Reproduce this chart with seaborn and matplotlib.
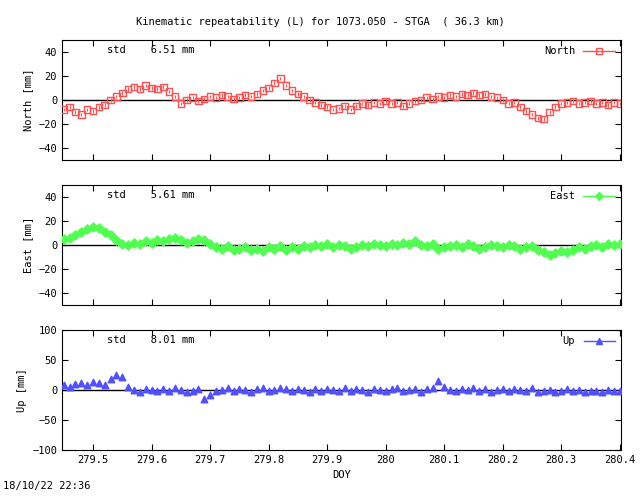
import numpy as np
import pandas as pd
import matplotlib.pyplot as plt
import seaborn as sns
from matplotlib.lines import Line2D

# DOY sample times (every 0.01 day)
doy = [round(279.45 + 0.01 * i, 2) for i in range(96)]

north = [-8, -6, -10, -12, -8, -9, -6, -4, 0, 3, 6, 9, 11, 9, 12, 10, 9, 11, 7, 3,
         -3, 0, 2, -1, 1, 3, 2, 4, 3, 1, 2, 4, 3, 5, 8, 10, 14, 18, 12, 8,
         5, 3, 0, -2, -4, -6, -8, -7, -5, -8, -5, -3, -4, -2, -3,
         -1, -3, -2, -5, -3, -1, 0, 2, 1, 3, 2, 4, 3, 5, 4, 6, 4, 5, 3, 2,
         0, -3, -2, -6, -9, -12, -15, -16, -10, -6, -3, -2, -1, -3, -2, -1, -3, -2, -4, -2, -3]
east = [5, 6, 8, 11, 13, 15, 14, 11, 8, 4, 1, 0, 2, 1, 3, 2, 4, 3, 5, 6,
        4, 2, 3, 5, 4, 1, -2, -3, -1, -4, -3, -2, -4, -3, -5, -2, -3, -1, -4, -2,
        -3, -1, -2, 0, -1, 1, -2, 0, -1, -3, -2, 0, -1, 1, 0,
        -1, 1, 0, 2, 1, 3, 0, -1, 1, -3, -2, -1, 0, -2, 1, -1, -3, -2, 0, -1,
        -2, 0, -1, -3, -2, -1, -4, -6, -8, -7, -5, -6, -4, -2, -3, -1, 0, -2, 1, 0, 1]
up = [8, 5, 10, 12, 9, 14, 11, 8, 18, 25, 22, 5, 0, -3, 2, 0, -2, 1, -1, 3,
      0, -4, -2, 1, -15, -8, -2, 0, 3, -1, 2, 0, -3, 1, 4, -2, 0, 3, 1, -1,
      2, 0, -3, 1, -2, 2, 0, -1, 3, -2, 1, 0, -3, 2, 0,
      -2, 1, 3, -1, 0, 2, -3, 1, 4, 15, 5, 0, -2, 2, 0, 3, -1, 1, -3, 0,
      2, -2, 1, 0, -1, 3, -4, -2, 0, -3, -1, 1, -2, 0, -4, -2, -1, -3, 0, -2, -1]

title = "Kinematic repeatability (L) for 1073.050 - STGA  ( 36.3 km)"
panels = [("North", north, "#ff5050", "s", "North [mm]", 6.51, (-50, 50), [-40, -20, 0, 20, 40]),
          ("East", east, "#50ff50", "D", "East [mm]", 5.61, (-50, 50), [-40, -20, 0, 20, 40]),
          ("Up", up, "#5050ff", "^", "Up [mm]", 8.01, (-100, 100), [-100, -50, 0, 50, 100])]
xticks = [279.5, 279.6, 279.7, 279.8, 279.9, 280.0, 280.1, 280.2, 280.3, 280.4]
xticklabels = ["279.5", "279.6", "279.7", "279.8", "279.9", "280", "280.1", "280.2", "280.3", "280.4"]

plt.rcParams["font.family"] = "DejaVu Sans Mono"
plt.rcParams["font.size"] = 7.5
fig = plt.figure(figsize=(6.4, 4.96), dpi=100)
fig.text(0.5, 0.955, title, ha="center", va="center")
fig.text(0.005, 0.01, "18/10/22 22:36", ha="left", va="bottom")

tops = [40, 185, 330]
for (name, vals, col, mk, ylab, std, ylim, yt), top in zip(panels, tops):
    ax = fig.add_axes([62 / 640, 1 - (top + 120) / 496, 559 / 640, 120 / 496])
    df = pd.DataFrame({"doy": doy, "v": vals})
    ax.axhline(0, color="black", lw=1, zorder=1)
    ax.errorbar(df["doy"], df["v"], yerr=1.5, fmt="none", ecolor=col, lw=0.8, zorder=2)
    sns.scatterplot(data=df, x="doy", y="v", ax=ax, marker=mk, s=22,
                    facecolor="none" if mk == "s" else col, edgecolor=col,
                    linewidth=1, zorder=3)
    ax.set_xlim(279.447, 280.402)
    ax.set_ylim(*ylim)
    ax.set_yticks(yt)
    ax.set_xticks(xticks)
    ax.set_xticklabels(xticklabels if name == "Up" else [])
    ax.set_ylabel(ylab)
    ax.set_xlabel("DOY" if name == "Up" else "")
    ax.tick_params(direction="in", length=4, top=True, right=True)
    ax.text(0.08, 0.92, f"std    {std:.2f} mm", transform=ax.transAxes, va="center")
    h = Line2D([0], [0], color=col, marker=mk, markersize=4,
               markerfacecolor="none" if mk == "s" else col, lw=1)
    ax.legend([h], [name], loc="upper right", frameon=False, handlelength=3,
              markerfirst=False, borderaxespad=0.2)

fig.savefig("out.png", dpi=100)
